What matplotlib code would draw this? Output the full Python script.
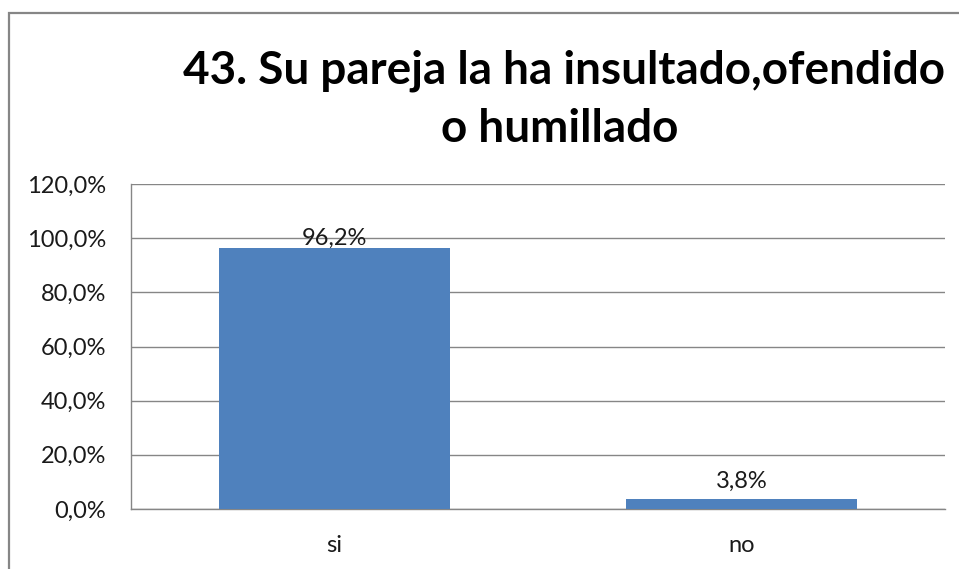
import matplotlib
matplotlib.use("Agg")
import matplotlib.pyplot as plt
from matplotlib.patches import Rectangle

categories = ["si", "no"]
values = [96.2, 3.8]
y_ticks = [0, 20, 40, 60, 80, 100, 120]
title_lines = ["43. Su pareja la ha insultado,ofendido", "o humillado"]

BAR_COLOR = "#4F81BD"
GRID_COLOR = "#868686"
TEXT_COLOR = "#1a1a1a"
FONT = "Lato"


def pct(v):
    return f"{v:.1f}".replace(".", ",") + "%"


fig = plt.figure(figsize=(9.59, 5.69), dpi=100)
fig.patch.set_facecolor("white")

# chart frame
fig.add_artist(Rectangle((9 / 959, -0.1), 1.2, (569 - 13) / 569 + 0.1,
                         transform=fig.transFigure, fill=False,
                         edgecolor=GRID_COLOR, linewidth=1.6))

ax = fig.add_axes([131 / 959, 60 / 569, 814 / 959, 325 / 569])
x = range(len(categories))
bars = ax.bar(x, values, width=0.57, color=BAR_COLOR, zorder=3)

ax.set_xlim(-0.5, len(categories) - 0.5)
ax.set_ylim(0, 120)
ax.set_yticks(y_ticks)
ax.set_yticklabels([pct(t) for t in y_ticks], fontfamily=FONT, fontsize=17,
                   color=TEXT_COLOR)
ax.set_xticks(list(x))
ax.set_xticklabels(categories, fontfamily=FONT, fontsize=17, color=TEXT_COLOR)
ax.tick_params(axis="y", length=0, pad=18)
ax.tick_params(axis="x", length=0, pad=19)

ax.grid(axis="y", color=GRID_COLOR, linewidth=1.0, zorder=0)
for side in ("top", "right"):
    ax.spines[side].set_visible(False)
for side in ("left", "bottom"):
    ax.spines[side].set_color(GRID_COLOR)
    ax.spines[side].set_linewidth(1.0)

label_offsets = [0, 7]
for bar, v, off in zip(bars, values, label_offsets):
    ax.annotate(pct(v), (bar.get_x() + bar.get_width() / 2, v),
                xytext=(0, off), textcoords="offset pixels",
                ha="center", va="bottom", fontfamily=FONT, fontsize=17,
                color=TEXT_COLOR, zorder=4)

for line, cx, baseline in zip(title_lines, (564, 560), (84, 142)):
    fig.text(cx / 959, 1 - baseline / 569, line, ha="center", va="baseline",
             fontfamily=FONT, fontweight="bold", fontsize=33, color="black")

fig.savefig("out.png", dpi=100, facecolor="white")
